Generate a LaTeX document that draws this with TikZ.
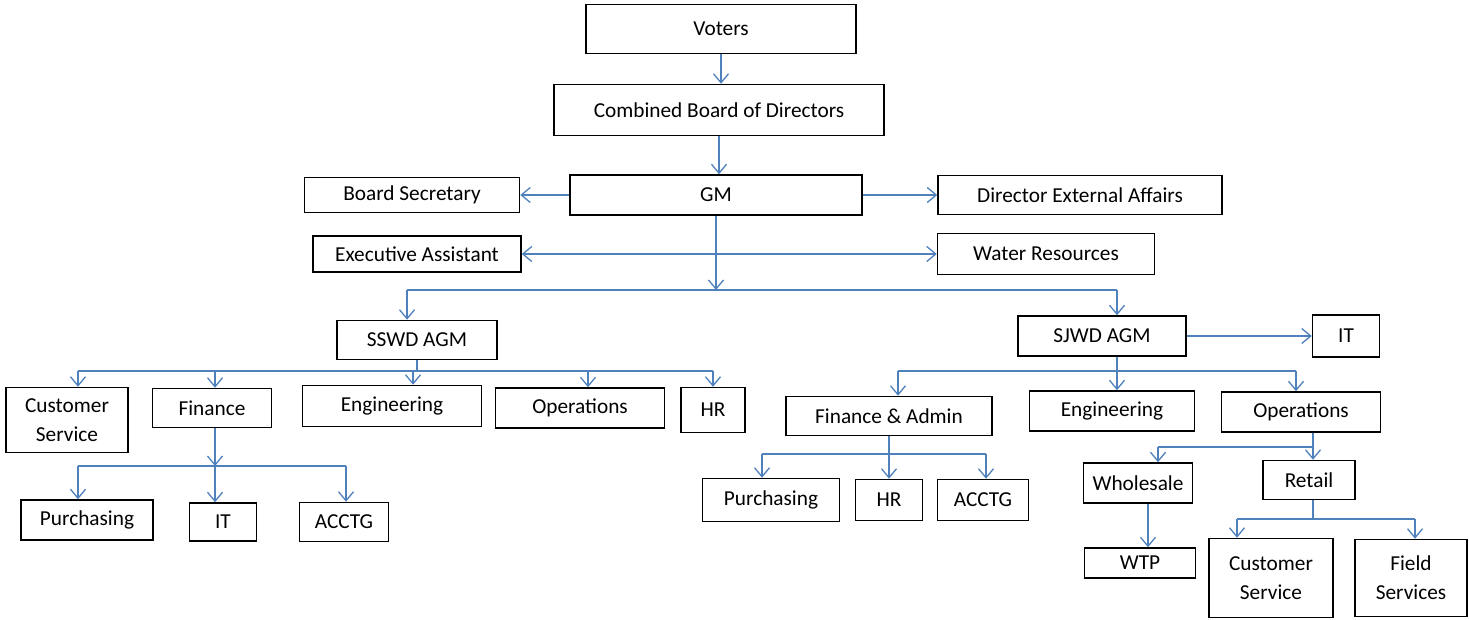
\documentclass[tikz,border=0pt]{standalone}
\usepackage{fontspec}
\setmainfont{Carlito}
\usetikzlibrary{arrows.meta}

\definecolor{linkblue}{RGB}{79,129,189}

\tikzset{
    box/.style={draw=black, line width=1.5pt, inner sep=0pt, align=center,
        font=\fontsize{21.3}{29}\selectfont},
    bus/.style={draw=linkblue, line width=1.5pt},
    link/.style={bus, ->},
    >={Straight Barb[length=9pt, width=15pt, line width=1.3pt]}
}

\begin{document}
\begin{tikzpicture}[x=1pt, y=-1pt]
        \useasboundingbox (0,0) rectangle (1469,620);

        % Top of the chart
        \node[box, minimum width=270, minimum height=49] (voters) at (721,29) {Voters};
        \node[box, minimum width=330, minimum height=51] (board) at (719,110) {Combined Board of Directors};
        \node[box, minimum width=292, minimum height=40] (gm) at (716,195) {GM};
        \node[box, minimum width=215, minimum height=35] (secretary) at (412,195) {Board Secretary};
        \node[box, minimum width=284, minimum height=39] (extaff) at (1080,195) {Director External Affairs};
        \node[box, minimum width=208, minimum height=36] (execasst) at (417,254) {Executive Assistant};
        \node[box, minimum width=217, minimum height=41] (water) at (1046,254) {Water Resources};

        % The two AGMs
        \node[box, minimum width=160, minimum height=39] (sswd) at (417,340) {SSWD AGM};
        \node[box, minimum width=168, minimum height=40] (sjwd) at (1102,336) {SJWD AGM};
        \node[box, minimum width=67, minimum height=42] (jit) at (1346,336) {IT};

        % SSWD side
        \node[box, minimum width=122, minimum height=65] (scs) at (67,420) {Customer\\Service};
        \node[box, minimum width=119, minimum height=39] (sfin) at (212,408) {Finance};
        \node[box, minimum width=179, minimum height=41] (seng) at (392,406) {Engineering};
        \node[box, minimum width=169, minimum height=40] (sops) at (580,408) {Operations};
        \node[box, minimum width=64, minimum height=45] (shr) at (713,410) {HR};
        \node[box, minimum width=132, minimum height=40] (spur) at (87,520) {Purchasing};
        \node[box, minimum width=67, minimum height=38] (sit) at (223,522) {IT};
        \node[box, minimum width=89, minimum height=39] (sacc) at (344,522) {ACCTG};

        % SJWD side
        \node[box, minimum width=206, minimum height=39] (jfin) at (889,416) {Finance \& Admin};
        \node[box, minimum width=165, minimum height=40] (jeng) at (1112,411) {Engineering};
        \node[box, minimum width=159, minimum height=40] (jops) at (1301,412) {Operations};
        \node[box, minimum width=137, minimum height=43] (jpur) at (771,500) {Purchasing};
        \node[box, minimum width=67, minimum height=41] (jhr) at (889,500) {HR};
        \node[box, minimum width=91, minimum height=41] (jacc) at (983,500) {ACCTG};
        \node[box, minimum width=109, minimum height=40] (whole) at (1138,483) {Wholesale};
        \node[box, minimum width=92, minimum height=39] (retail) at (1309,480) {Retail};
        \node[box, minimum width=111, minimum height=30] (wtp) at (1140,563) {WTP};
        \node[box, minimum width=124, minimum height=79] (jcs) at (1271,578) {Customer\\Service};
        \node[box, minimum width=112, minimum height=77] (field) at (1411,578) {Field\\Services};

        % Bus junctions
        \coordinate (agmL) at (407,290);
        \coordinate (agmR) at (1117,290);
        \coordinate (sbusL) at (78,371);
        \coordinate (sbusR) at (713,371);
        \coordinate (fbusL) at (78,466);
        \coordinate (fbusR) at (346,466);
        \coordinate (jbusL) at (898,371);
        \coordinate (jbusR) at (1296,371);
        \coordinate (abusL) at (762,454);
        \coordinate (abusR) at (986,454);
        \coordinate (obusL) at (1158,447);
        \coordinate (obusR) at (1313,447);
        \coordinate (rbusL) at (1237,519);
        \coordinate (rbusR) at (1415,519);

        % Upper links
        \draw[link] (voters.south) -- (voters.south |- board.north);
        \draw[link] (board.south) -- (board.south |- gm.north);
        \draw[link] (gm.west) -- (secretary.east);
        \draw[link] (gm.east) -- (extaff.west);
        \draw[link, <->] (execasst.east) -- (water.west);
        \draw[link] (gm.south) -- (gm.south |- agmL);
        \draw[bus] (agmL) -- (agmR);
        \draw[link] (agmL) -- (agmL |- sswd.north);
        \draw[link] (agmR) -- (agmR |- sjwd.north);
        \draw[link] (sjwd.east) -- (jit.west);

        % SSWD branches
        \draw[bus] (sswd.south) -- (sswd.south |- sbusL);
        \draw[bus] (sbusL) -- (sbusR);
        \foreach \n/\x in {scs/78, sfin/215, seng/413, sops/588, shr/713}
            \draw[link] (\x,0 |- sbusL) -- (\x,0 |- \n.north);
        \draw[link] (215,0 |- sfin.south) -- (215,0 |- fbusL);
        \draw[bus] (fbusL) -- (fbusR);
        \foreach \n/\x in {spur/78, sit/215, sacc/346}
            \draw[link] (\x,0 |- fbusL) -- (\x,0 |- \n.north);

        % SJWD branches
        \draw[link] (agmR |- sjwd.south) -- (agmR |- jeng.north);
        \draw[bus] (jbusL) -- (jbusR);
        \draw[link] (jbusL) -- (jbusL |- jfin.north);
        \draw[link] (jbusR) -- (jbusR |- jops.north);
        \draw[link] (jfin.south) -- (jfin.south |- jhr.north);
        \draw[bus] (abusL) -- (abusR);
        \draw[link] (abusL) -- (abusL |- jpur.north);
        \draw[link] (abusR) -- (abusR |- jacc.north);
        \draw[link] (obusR |- jops.south) -- (obusR |- retail.north);
        \draw[bus] (obusL) -- (obusR);
        \draw[link] (obusL) -- (obusL |- whole.north);
        \draw[link] (1148,0 |- whole.south) -- (1148,0 |- wtp.north);
        \draw[bus] (obusR |- retail.south) -- (obusR |- rbusL);
        \draw[bus] (rbusL) -- (rbusR);
        \draw[link] (rbusL) -- (rbusL |- jcs.north);
        \draw[link] (rbusR) -- (rbusR |- field.north);
    \end{tikzpicture}
\end{document}
